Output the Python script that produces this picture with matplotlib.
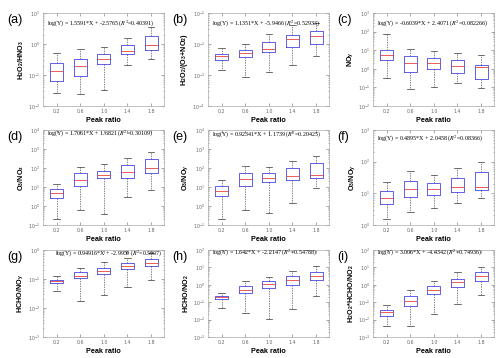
import matplotlib
matplotlib.use("Agg")
import matplotlib.pyplot as plt
from matplotlib.ticker import LogLocator, NullFormatter

peak_ratio = ["0.2", "0.6", "1.0", "1.4", "1.8"]
panel_tags = ["(a)", "(b)", "(c)", "(d)", "(e)", "(f)", "(g)", "(h)", "(i)"]
ylabels = [
    r"H$_\mathregular{2}$O$_\mathregular{2}$/HNO$_\mathregular{3}$",
    r"H$_\mathregular{2}$O$_\mathregular{2}$/(O$_\mathregular{3}$+NO$_\mathregular{2}$)",
    r"NO$_\mathregular{y}$",
    r"O$_\mathregular{3}$/NO$_\mathregular{z}$",
    r"O$_\mathregular{3}$/NO$_\mathregular{y}$",
    r"O$_\mathregular{3}$/NO$_\mathregular{y}$",
    r"HCHO/NO$_\mathregular{y}$",
    r"HCHO/NO$_\mathregular{2}$",
    r"H$_\mathregular{2}$O$_\mathregular{2}$*HCHO/NO$_\mathregular{2}$",
]
equations = [
    r"log(Y) = 1.5591*X + -2.5765 ($R^2$=0.40391)",
    r"log(Y) = 1.1351*X + -5.9466 ($R^2$=0.52933)",
    r"log(Y) = -0.6039*X + 2.4071 ($R^2$=0.082266)",
    r"log(Y) = 1.7061*X + 1.6821 ($R^2$=0.30109)",
    r"log(Y) = 0.92341*X + 1.1739 ($R^2$=0.20425)",
    r"log(Y) = 0.4895*X + 2.0458 ($R^2$=0.08366)",
    r"log(Y) = 0.94916*X + -2.9959 ($R^2$=0.5907)",
    r"log(Y) = 1.642*X + -2.2147 ($R^2$=0.54788)",
    r"log(Y) = 3.006*X + -4.4342 ($R^2$=0.74936)",
]
# y-axis decades (log10 limits)
ylims = [(-2, 1), (-4, -1), (-2, 3), (-1, 4), (-1, 4), (0, 3), (-3, 0), (-3, 2), (-3, 2)]

# box statistics per panel: whisker low, q1, median, q3, whisker high
whislo = [
    [0.0255, 0.024, 0.034, 0.21, 0.34],
    [0.00144, 0.00088, 0.00127, 0.0021, 0.0040],
    [0.34, 0.078, 0.1, 0.164, 0.088],
    [0.21, 0.62, 0.36, 3.1, 6.9],
    [0.21, 0.62, 0.41, 1.38, 8.5],
    [1.6, 2.6, 3.5, 4.8, 7.0],
    [0.0376, 0.0171, 0.0289, 0.0515, 0.0893],
    [0.047, 0.0244, 0.0102, 0.041, 0.218],
    [0.0042, 0.0042, 0.0214, 0.08, 0.27],
]
q1 = [
    [0.064, 0.094, 0.22, 0.47, 0.63],
    [0.0030, 0.00385, 0.0056, 0.0081, 0.0103],
    [2.9, 0.69, 1.0, 0.59, 0.27],
    [2.75, 11.3, 28.6, 31, 52],
    [3.5, 11.3, 19, 23, 28.6],
    [4.5, 7.5, 8.9, 10.8, 12.7],
    [0.072, 0.107, 0.147, 0.224, 0.291],
    [0.154, 0.338, 0.65, 1.0, 1.78],
    [0.0172, 0.059, 0.31, 0.74, 1.7],
]
med = [
    [0.133, 0.198, 0.32, 0.60, 0.91],
    [0.0040, 0.0052, 0.0071, 0.015, 0.0178],
    [5.4, 1.93, 2.1, 1.5, 1.18],
    [4.6, 23, 41, 64, 96],
    [6.2, 25, 31, 39, 43],
    [7.0, 13.7, 13.7, 15.5, 16.3],
    [0.083, 0.132, 0.196, 0.291, 0.369],
    [0.191, 0.52, 1.1, 1.78, 3.3],
    [0.0279, 0.123, 0.52, 1.43, 3.0],
]
q3 = [
    [0.247, 0.34, 0.46, 0.91, 1.8],
    [0.0049, 0.0063, 0.0117, 0.020, 0.026],
    [10.9, 4.8, 3.6, 2.8, 1.7],
    [7.9, 52, 70, 144, 298],
    [11.3, 57, 55, 96, 191],
    [12.1, 24.5, 20.7, 30, 46],
    [0.094, 0.168, 0.249, 0.35, 0.48],
    [0.218, 0.81, 1.56, 3.0, 5.8],
    [0.038, 0.218, 0.81, 2.2, 5.1],
]
whishi = [
    [0.52, 0.68, 0.81, 1.6, 3.5],
    [0.0075, 0.0103, 0.0217, 0.040, 0.048],
    [78, 12.3, 8.8, 7.5, 5.4],
    [13.8, 117, 156, 350, 668],
    [23, 133, 108, 233, 446],
    [23, 51, 38, 62, 100],
    [0.122, 0.249, 0.379, 0.519, 0.81],
    [0.338, 1.56, 2.76, 6.3, 12.2],
    [0.073, 0.48, 1.56, 5.3, 10.3],
]

# axes placement in pixels and equation text position
col_left = [43, 208, 373]
row_top = [13, 130, 250]
row_h = [93, 95, 87]
eq_pos = [(0.03, 0.88), (0.03, 0.88), (0.03, 0.88),
          (0.03, 0.955), (0.03, 0.95), (0.03, 0.91),
          (0.10, 0.955), (0.03, 0.965), (0.03, 0.965)]

plt.rcParams["mathtext.fontset"] = "stix"

W, H = 500, 358
fig = plt.figure(figsize=(5.0, 3.58), dpi=100)

for k in range(9):
    r, c = divmod(k, 3)
    ax = fig.add_axes([col_left[c] / W, 1 - (row_top[r] + row_h[r]) / H,
                       121 / W, row_h[r] / H])
    stats = []
    for j in range(5):
        stats.append(dict(whislo=whislo[k][j], q1=q1[k][j], med=med[k][j],
                          q3=q3[k][j], whishi=whishi[k][j], fliers=[]))
    ax.bxp(stats, positions=range(1, 6), widths=0.55, capwidths=0.28,
           showfliers=False,
           boxprops=dict(color="#4646e6", linewidth=0.6),
           medianprops=dict(color="#e84040", linewidth=0.6),
           whiskerprops=dict(color="#555555", linewidth=0.5, linestyle=(0, (2, 1.5))),
           capprops=dict(color="#333333", linewidth=0.5))
    ax.set_yscale("log")
    lo, hi = ylims[k]
    ax.set_ylim(10.0 ** lo, 10.0 ** hi)
    ax.set_xlim(0.42, 5.55)
    ax.yaxis.set_major_locator(LogLocator(base=10, numticks=20))
    ax.yaxis.set_minor_locator(LogLocator(base=10, subs=range(2, 10), numticks=20))
    ax.yaxis.set_minor_formatter(NullFormatter())
    ax.set_xticks(range(1, 6))
    ax.set_xticklabels(peak_ratio)
    ax.tick_params(axis="both", which="both", direction="in", labelsize=3.4,
                   colors="#666666", length=2, width=0.4, pad=2,
                   top=True, right=True)
    ax.tick_params(axis="y", which="minor", length=1)
    for sp in ax.spines.values():
        sp.set_color("#aaaaaa")
        sp.set_linewidth(0.5)
    ax.set_ylabel(ylabels[k], fontsize=5.2, fontweight="bold",
                  family="Liberation Sans", labelpad=1.5)
    ax.set_xlabel("Peak ratio", fontsize=5.2, fontweight="bold",
                  family="Liberation Sans", labelpad=2)
    ax.text(eq_pos[k][0], eq_pos[k][1], equations[k], transform=ax.transAxes,
            fontsize=4.3, family="Liberation Serif", va="center")
    fig.text((col_left[c] - 36) / W, 1 - (row_top[r] + 1) / H, panel_tags[k],
             fontsize=9, family="Liberation Sans", va="top", ha="left")

fig.savefig("out.png", dpi=100)
